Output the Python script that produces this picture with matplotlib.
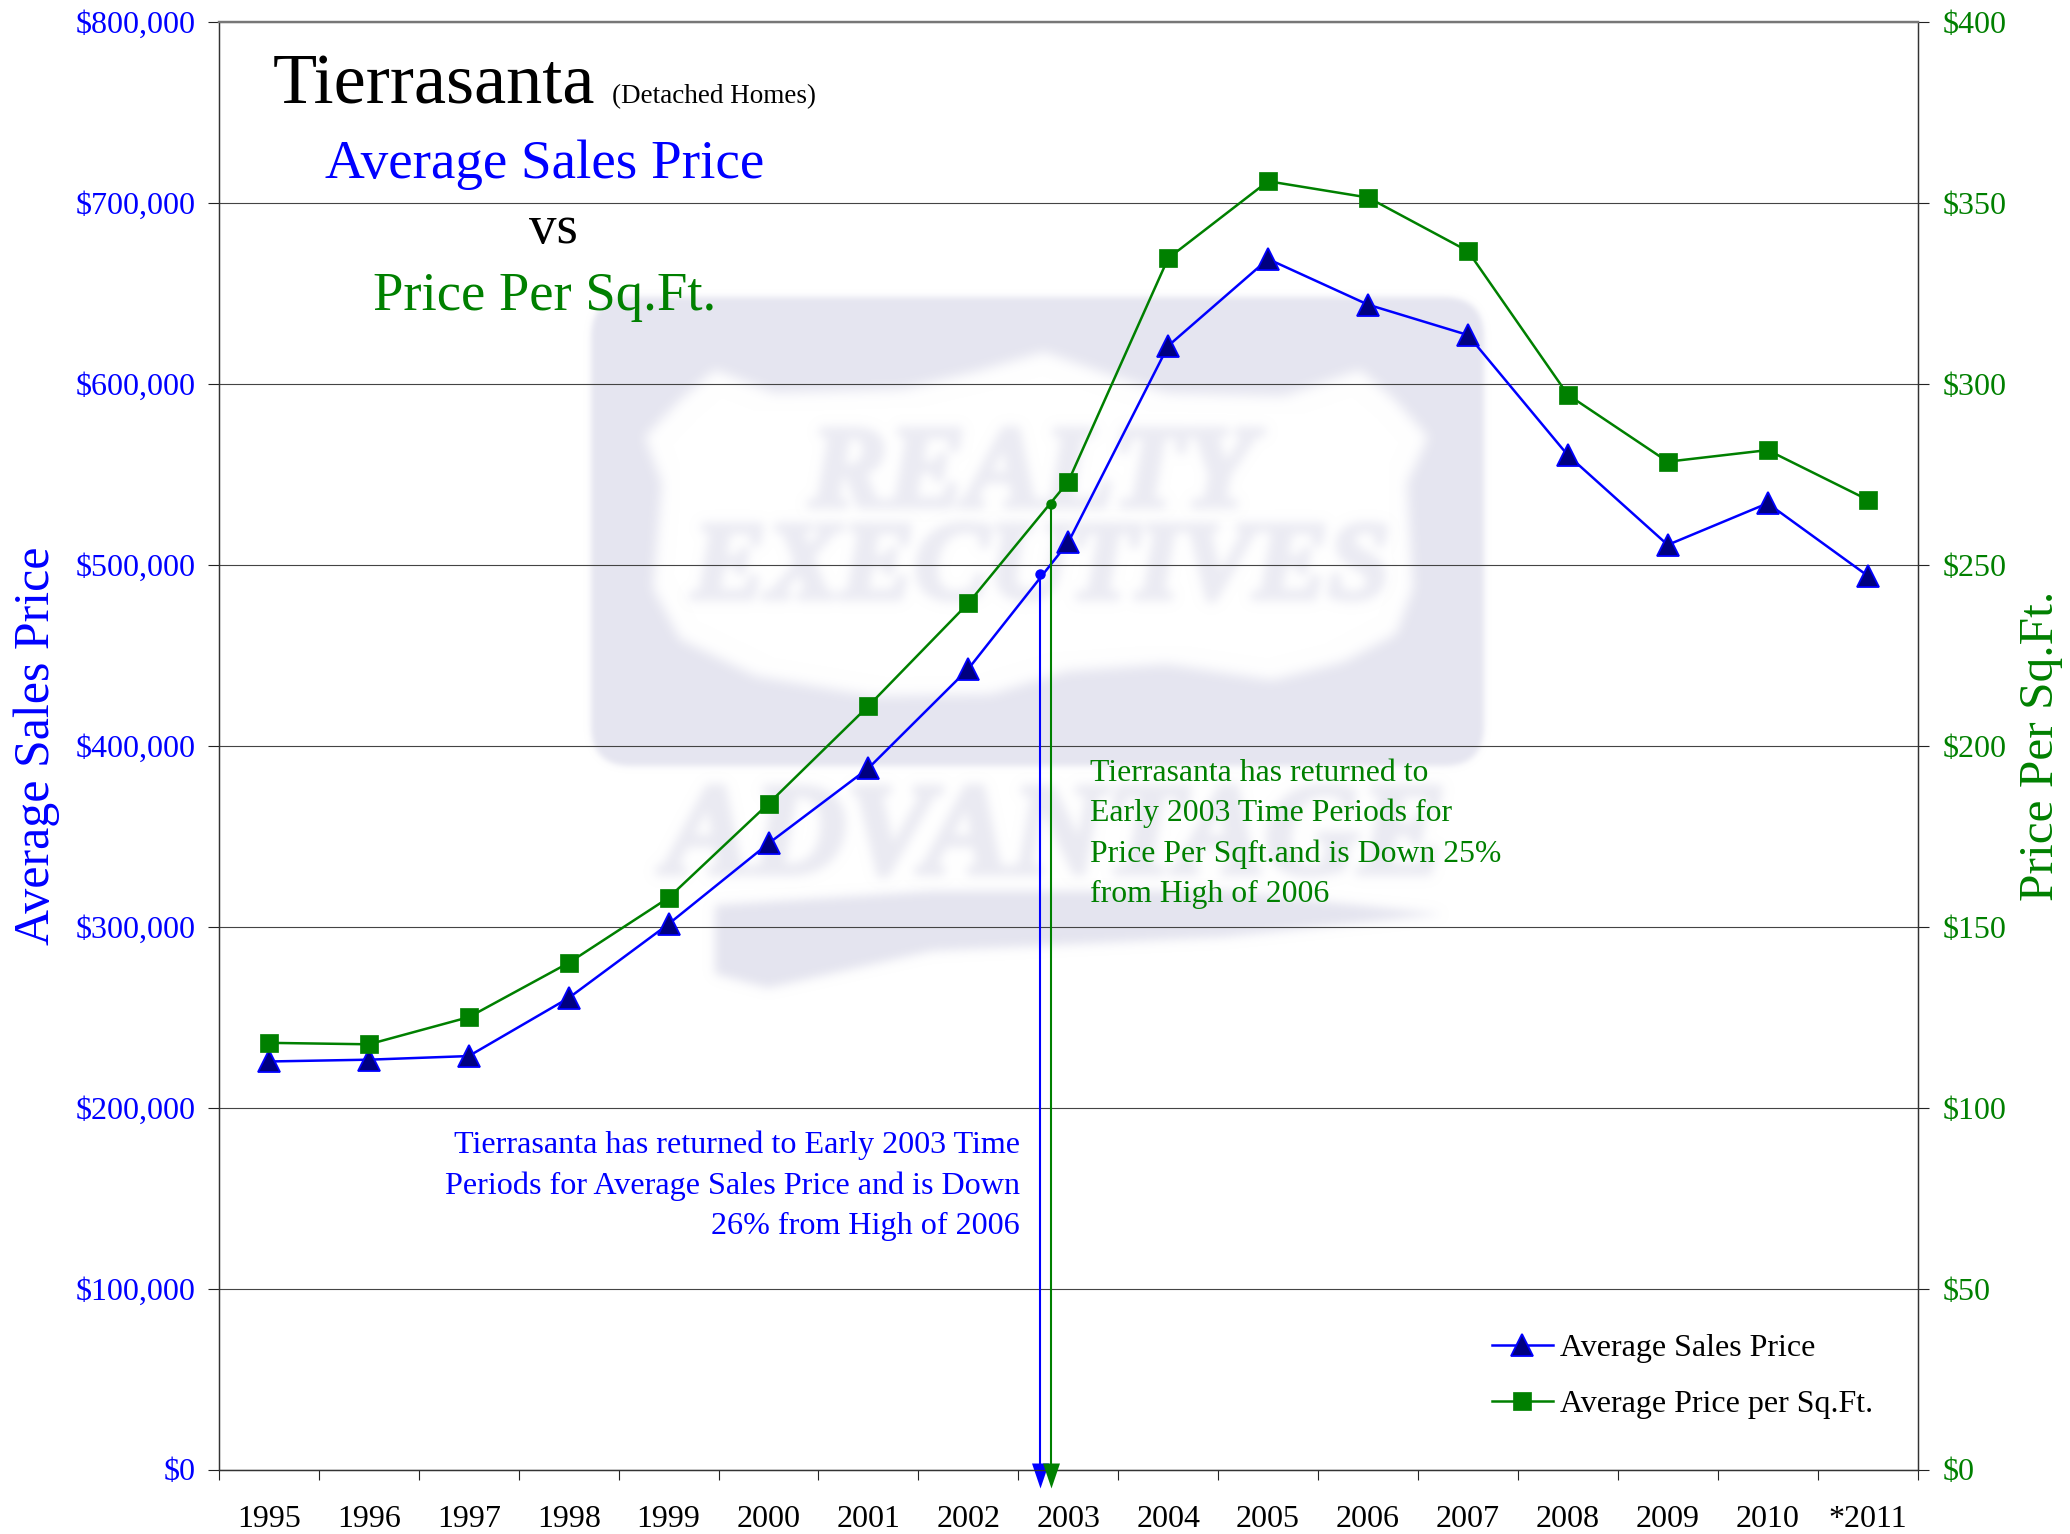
import numpy as np
import matplotlib
matplotlib.use("Agg")
import matplotlib.pyplot as plt
import matplotlib.patheffects as pe
from matplotlib.patches import FancyBboxPatch, Polygon
from matplotlib.ticker import FuncFormatter, FixedLocator

W, H = 2070, 1534
plt.rcParams['font.family'] = ['Liberation Serif', 'DejaVu Serif']

years = ['1995','1996','1997','1998','1999','2000','2001','2002','2003','2004','2005','2006','2007','2008','2009','2010','*2011']
avg_price = [225500,226500,228500,260600,301500,346000,387600,442500,512400,621000,669000,643800,627000,560600,511000,534000,494000]
price_sqft = [117.9,117.5,125,140,158,184,211,239.4,273,334.7,356,351.5,336.7,297,278.5,281.7,268]
blue_ref = (7.72, 495000)
green_ref = (7.83, 266.8)
blue_note = ['Tierrasanta has returned to Early 2003 Time', 'Periods for Average Sales Price and is Down', '26% from High of 2006']
green_note = ['Tierrasanta has returned to', 'Early 2003 Time Periods for', 'Price Per Sqft.and is Down 25%', 'from High of 2006']

BLUE, GREEN, NAVY = '#0000FF', '#008000', '#000080'
WM = '#E5E5F0'
WM_TEXT = '#EBEBF3'

fig = plt.figure(figsize=(W/100, H/100), dpi=100, facecolor='white')
L, R, T, B = 219, 1917.5, 22, 1469.5
ax = fig.add_axes([L/W, 1-B/H, (R-L)/W, (B-T)/H])
ax.patch.set_visible(False)
ax2 = ax.twinx()
ax2.patch.set_visible(False)

def px(x, y):
    return x/W, 1-y/H

def blur(sigma):
    r = int(3*sigma)
    k = np.exp(-0.5*(np.arange(-r, r+1)/sigma)**2)
    k /= k.sum()
    def f(img, dpi):
        pad = r*2
        out = np.pad(img, ((pad, pad), (pad, pad), (0, 0)))
        mask = out[..., 3] > 0
        col = out[mask][:, :3].mean(axis=0) if mask.any() else np.zeros(3)
        a = np.apply_along_axis(lambda m: np.convolve(m, k, mode='same'), 0, out[..., 3])
        a = np.apply_along_axis(lambda m: np.convolve(m, k, mode='same'), 1, a)
        out[..., :3] = col
        out[..., 3] = a
        return out, -pad, -pad
    return f

# pale watermark behind the chart
def fpoly(points, color, z, s=4):
    p = Polygon([px(*q) for q in points], closed=True, transform=fig.transFigure,
                facecolor=color, edgecolor='none', zorder=z)
    p.set_agg_filter(blur(s))
    fig.add_artist(p)

box = FancyBboxPatch((621, H-736), 833, 409, boxstyle='round,pad=30,rounding_size=40',
                     transform=matplotlib.transforms.IdentityTransform(), facecolor=WM, edgecolor='none', zorder=-5)
box.set_agg_filter(blur(3))
fig.add_artist(box)
fpoly([(715,370),(774,393),(903,389),(975,372),(1044,352),(1110,375),(1167,393),(1284,396),(1360,370),(1395,400),(1428,437),(1407,483),(1413,588),(1396,634),
       (1343,662),(1272,680),(1167,664),(1067,671),(991,694),(873,696),(756,676),(680,639),(653,588),(662,483),(645,437),(680,400)],
      'white', -4, 6)
fpoly([(715,905),(932,891),(1225,891),(1443,914),(1225,937),(932,951),(768,988),(715,974)], WM, -4, 5)
for s, xc, yb, size, col in [('REALTY', 1032, 506, 84, WM_TEXT), ('EXECUTIVES', 1041, 598, 80, WM_TEXT), ('ADVANTAGE', 1055, 873, 94, WM_TEXT)]:
    t = fig.text(*px(xc, yb), s, ha='center', va='baseline', fontsize=size, fontweight='bold',
                 fontstyle='italic', color=col, zorder=-3)
    t.set_path_effects([pe.withStroke(linewidth=4, foreground=col)])
    t.set_agg_filter(blur(5))

x = np.arange(len(years))
l1, = ax.plot(x, avg_price, color=BLUE, lw=1.8, marker='^', ms=15.5, mfc=NAVY, mec=BLUE, mew=1.3,
              label='Average Sales Price', zorder=3)
l2, = ax2.plot(x, price_sqft, color=GREEN, lw=1.8, marker='s', ms=13, mfc=GREEN, mec=GREEN, mew=0.5,
               label='Average Price per Sq.Ft.', zorder=3)

arrow = [(0, -18), (-8.5, 7), (8.5, 7), (0, -18)]
ax.plot([blue_ref[0]]*2, [0, blue_ref[1]], color=BLUE, lw=1.5, zorder=3)
ax.plot(*blue_ref, marker='o', ms=6.5, color=BLUE, zorder=3)
ax.plot(blue_ref[0], 0, marker=arrow, ms=25.9, color=BLUE, mew=0, clip_on=False, zorder=4)
ax2.plot([green_ref[0]]*2, [0, green_ref[1]], color=GREEN, lw=1.5, zorder=3)
ax2.plot(*green_ref, marker='o', ms=6.5, color=GREEN, zorder=3)
ax2.plot(green_ref[0], 0, marker=arrow, ms=25.9, color=GREEN, mew=0, clip_on=False, zorder=4)

ax.set_xlim(-0.5, len(years)-0.5)
ax.set_ylim(0, 800000)
ax2.set_ylim(0, 400)
ax.set_yticks(np.arange(0, 800001, 100000))
ax2.set_yticks(np.arange(0, 401, 50))
ax.yaxis.set_major_formatter(FuncFormatter(lambda v, _: f'${v:,.0f}'))
ax2.yaxis.set_major_formatter(FuncFormatter(lambda v, _: f'${v:,.0f}'))
ax.grid(axis='y', color='#444444', lw=0.8, zorder=1)
ax.set_axisbelow(True)

ax.xaxis.set_major_locator(FixedLocator(np.arange(len(years)+1)-0.5))
ax.xaxis.set_minor_locator(FixedLocator(x))
ax.set_xticklabels([], minor=False)
ax.set_xticklabels(years, minor=True)
ax.tick_params(axis='x', which='major', length=7.5, width=0.8, color='#222222')
ax.tick_params(axis='x', which='minor', length=0, labelsize=23, pad=25.3, labelcolor='black')
ax.tick_params(axis='y', length=8, width=0.8, color='#222222', labelsize=23, labelcolor=BLUE, pad=9)
ax2.tick_params(axis='y', length=8, width=0.8, color='#222222', labelsize=23, labelcolor=GREEN, pad=10)

for a in (ax, ax2):
    for s in a.spines.values():
        s.set_color('#333333')
        s.set_linewidth(0.9)
    a.spines['top'].set_linewidth(1.6)
    a.spines['top'].set_color('#777777')

fig.text(*px(37, 746), 'Average Sales Price', rotation=90, ha='center', va='center', fontsize=35.9, color=BLUE)
fig.text(*px(2041, 746), 'Price Per Sq.Ft.', rotation=90, ha='center', va='center', fontsize=35.6, color=GREEN)

for s, xp, yp, size, col in [('Tierrasanta', 273, 103, 52, 'black'), ('(Detached Homes)', 612, 103, 19.5, 'black'),
                             ('Average Sales Price', 325, 178, 39.7, BLUE), ('vs', 529, 243, 39.6, 'black'),
                             ('Price Per Sq.Ft.', 373, 310, 39.3, GREEN)]:
    fig.text(*px(xp, yp), s, ha='left', va='baseline', fontsize=size, color=col)

for i, s in enumerate(blue_note):
    fig.text(*px(1020, 1153+40.7*i), s, ha='right', va='baseline', fontsize=23.1, color=BLUE)
for i, s in enumerate(green_note):
    fig.text(*px(1090, 781+40.3*i), s, ha='left', va='baseline', fontsize=22.9, color=GREEN)

leg = ax2.legend(handles=[l1, l2], loc='lower left', bbox_to_anchor=(px(1492, 1419)), bbox_transform=fig.transFigure,
                 frameon=False, fontsize=23, handlelength=1.9, handletextpad=0.22, labelspacing=0.84,
                 borderpad=0, borderaxespad=0, numpoints=1, markerscale=1)
fig.savefig('out.png', dpi=100, facecolor='white')
